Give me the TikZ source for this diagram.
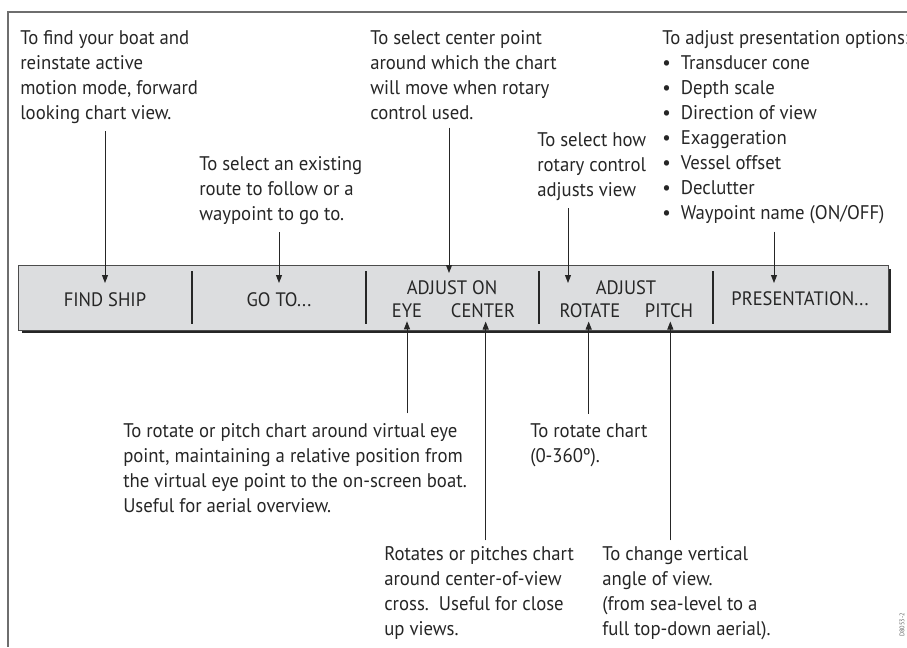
\documentclass[tikz,border=0pt]{standalone}
\usepackage{fontspec}
\setmainfont{PT Sans}[FakeStretch=0.95]
\usetikzlibrary{arrows.meta}

\definecolor{barfill}{HTML}{DCDDDF}
\definecolor{inkgray}{HTML}{262626}
\definecolor{framegray}{HTML}{6E6E6E}

\tikzset{
  note/.style={anchor=base west,align=left,inner sep=0pt,
               font=\fontsize{14.8}{18.75}\selectfont,text=inkgray},
  key/.style={anchor=base,inner sep=0pt,
              font=\fontsize{14.6}{17}\selectfont,text=inkgray},
  callout/.style={-{Triangle[length=6pt,width=4.5pt]},line width=0.7pt,draw=inkgray},
  divider/.style={line width=1.6pt,draw=inkgray},
}

\begin{document}
\begin{tikzpicture}[x=0.75pt,y=-0.75pt]
  \useasboundingbox (0,0) rectangle (907,647);
  % frame
  \draw[framegray,line width=1.5pt] (907,12) -- (8,12) -- (8,647);

  % soft key bar
  \fill[black!85] (22,269) rectangle (891,333);
  \draw[fill=barfill,draw=black!70,line width=0.6pt] (18,265) rectangle (888,330);
  \foreach \x in {192,366,539,713}
    \draw[divider] (\x,271) -- (\x,324);

  % key labels
  \node[key] (findship) at (105,306) {FIND SHIP};
  \node[key] (goto)     at (279,306) {GO TO...};
  \node[key] (adjon)    at (452,294) {ADJUST ON};
  \node[key] (eye)      at (407,317) {EYE};
  \node[key] (center)   at (483,317) {CENTER};
  \node[key] (adjust)   at (626,294) {ADJUST};
  \node[key] (rotate)   at (590,317) {ROTATE};
  \node[key] (pitch)    at (669,317) {PITCH};
  \node[key] (present)  at (800,305) {PRESENTATION...};

  % notes above (placed by the baseline of their last line)
  \node[note] (tfind) at (20,119) {To find your boat and\\reinstate active\\motion mode, forward\\looking chart view.};
  \node[note] (tgoto) at (199,220) {To select an existing\\route to follow or a\\waypoint to go to.};
  \node[note] (tcenter) at (370,119) {To select center point\\around which the chart\\will move when rotary\\control used.};
  \node[note] (thow) at (537,196) {To select how\\rotary control\\adjusts view};
  \node[note] (tpres) at (662,219) {To adjust presentation options:\\
    \textbullet\ \ Transducer cone\\ \textbullet\ \ Depth scale\\
    \textbullet\ \ Direction of view\\ \textbullet\ \ Exaggeration\\
    \textbullet\ \ Vessel offset\\ \textbullet\ \ Declutter\\
    \textbullet\ \ Waypoint name (ON/OFF)};

  % notes below
  \node[note] (teye) at (123,512) {To rotate or pitch chart around virtual eye\\point, maintaining a relative position from\\the virtual eye point to the on-screen boat.\\Useful for aerial overview.};
  \node[note] (trot) at (530,462) {To rotate chart\\(0-360º).};
  \node[note] (tcen) at (384,635) {Rotates or pitches chart\\around center-of-view\\cross.\ \ Useful for close\\up views.};
  \node[note] (tpitch) at (602,635) {To change vertical\\angle of view.\\(from sea-level to a\\full top-down aerial).};

  % arrow tips
  \coordinate (fsTip) at (105,283);
  \coordinate (goTip) at (279,283);
  \coordinate (onTip) at (449,273);
  \coordinate (adTip) at (568,283);
  \coordinate (prTip) at (774,283);

  \draw[callout,shorten <=6pt] (fsTip |- tfind.south) -- (fsTip);
  \draw[callout,shorten <=6pt] (goTip |- tgoto.south) -- (goTip);
  \draw[callout,shorten <=6pt] (onTip |- tcenter.south) -- (onTip);
  \draw[callout,shorten <=6pt] (adTip |- thow.south) -- (adTip);
  \draw[callout,shorten <=6pt] (prTip |- tpres.south) -- (prTip);

  \draw[callout,shorten <=7pt] (eye.south |- teye.north) -- ([yshift=-3pt]eye.south);
  \draw[callout,shorten <=4pt] ([xshift=2pt]center.south |- tcen.north) -- ([xshift=2pt,yshift=-3pt]center.south);
  \draw[callout,shorten <=7pt] ([xshift=-1pt]rotate.south |- trot.north) -- ([xshift=-1pt,yshift=-3pt]rotate.south);
  \draw[callout,shorten <=4pt] ([xshift=1pt]pitch.south |- tpitch.north) -- ([xshift=1pt,yshift=-3pt]pitch.south);

  % drawing number
  \node[rotate=90,inner sep=0pt,font=\fontsize{5}{6}\selectfont,text=black!60] (code) at (902,625) {D8053-2};
\end{tikzpicture}
\end{document}
